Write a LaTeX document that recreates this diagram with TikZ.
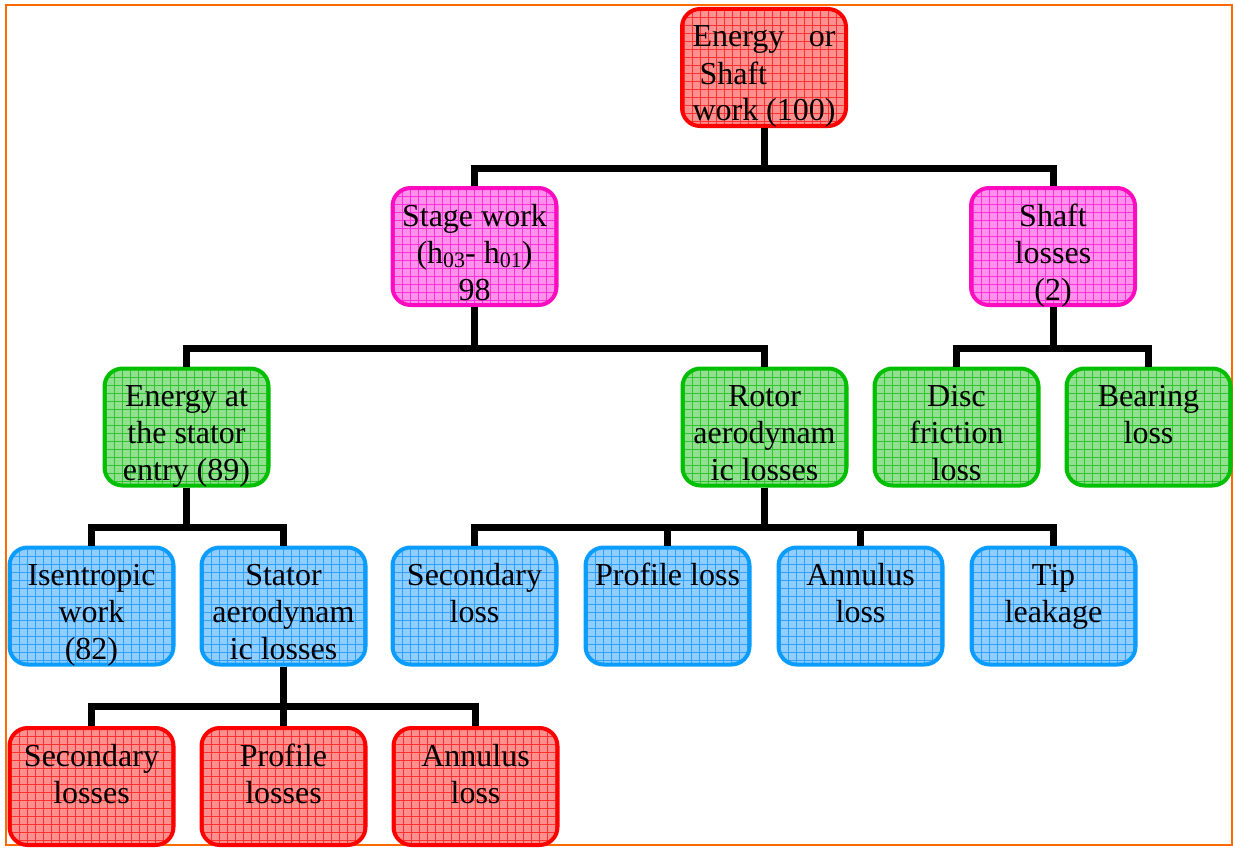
\documentclass[tikz,border=0pt]{standalone}
\usepackage{fontspec}
\setmainfont{Liberation Serif}
\definecolor{bRed}{HTML}{FF0000}
\definecolor{fRed}{HTML}{FF9090}
\definecolor{gRed}{HTML}{FF3030}
\definecolor{bMag}{HTML}{FF0CC0}
\definecolor{fMag}{HTML}{FF90EC}
\definecolor{gMag}{HTML}{FF30D8}
\definecolor{bGrn}{HTML}{00BE00}
\definecolor{fGrn}{HTML}{90E090}
\definecolor{gGrn}{HTML}{30C430}
\definecolor{bBlu}{HTML}{0A9CFF}
\definecolor{fBlu}{HTML}{90CEFF}
\definecolor{gBlu}{HTML}{30A0FF}
\definecolor{frameOrange}{HTML}{FF6A00}
\newcommand{\boxtext}[1]{\parbox[c][117pt][t]{160pt}{\centering\rule{0pt}{38pt}#1}}
\newcommand{\subnum}[1]{\raisebox{-0.3ex}{\fontsize{22}{22}\selectfont #1}}
\tikzset{
  base/.style={rectangle, rounded corners=18pt, line width=4pt,
    minimum width=164pt, minimum height=117pt, inner sep=0pt, outer sep=2pt,
    font=\fontsize{32}{37}\selectfont},
  gridfill/.style={path picture={\draw[#1, line width=0.6pt, step=8pt]
    (path picture bounding box.south west) grid (path picture bounding box.north east);}},
  redbox/.style={base, draw=bRed, fill=fRed, gridfill=gRed},
  magbox/.style={base, draw=bMag, fill=fMag, gridfill=gMag},
  grnbox/.style={base, draw=bGrn, fill=fGrn, gridfill=gGrn},
  blubox/.style={base, draw=bBlu, fill=fBlu, gridfill=gBlu},
  conn/.style={line width=7pt, black, line join=miter},
}
\begin{document}
\begin{tikzpicture}[x=1pt,y=-1pt]
\useasboundingbox (0,0) rectangle (1233,848);
\draw[frameOrange, line width=1.8pt] (6,5) rectangle (1232,845);

\node[redbox] (n1) at (764,67.5) {\parbox[c][117pt][t]{143pt}{\raggedright\rule{0pt}{38pt}\makebox[143pt][s]{Energy\hfill or}\\\hspace*{7pt}Shaft\\work (100)}};

\node[magbox] (n2) at (474.5,246.5) {\boxtext{Stage work\\(h\subnum{03}- h\subnum{01})\\98}};
\node[magbox] (n3) at (1053,246.5) {\boxtext{Shaft\\losses\\(2)}};

\node[grnbox] (n4) at (186.5,427) {\boxtext{Energy at\\the stator\\entry (89)}};
\node[grnbox] (n5) at (764.5,427) {\boxtext{Rotor\\aerodynam\\ic losses}};
\node[grnbox] (n6) at (956.5,427) {\boxtext{Disc\\friction\\loss}};
\node[grnbox] (n7) at (1148.5,427) {\boxtext{Bearing\\loss}};

\node[blubox] (n8) at (91.5,606) {\boxtext{Isentropic\\work\\(82)}};
\node[blubox] (n9) at (283.5,606) {\boxtext{Stator\\aerodynam\\ic losses}};
\node[blubox] (n10) at (474.5,606) {\boxtext{Secondary\\loss}};
\node[blubox] (n11) at (667.5,606) {\boxtext{Profile loss}};
\node[blubox] (n12) at (860.5,606) {\boxtext{Annulus\\loss}};
\node[blubox] (n13) at (1053.5,606) {\boxtext{Tip\\leakage}};

\node[redbox] (n14) at (91.5,786.5) {\boxtext{Secondary\\losses}};
\node[redbox] (n15) at (283.5,786.5) {\boxtext{Profile\\losses}};
\node[redbox] (n16) at (475.5,786.5) {\boxtext{Annulus\\loss}};

\coordinate (b1) at (0,168);
\coordinate (b2) at (0,348);
\coordinate (b3) at (0,527);
\coordinate (b4) at (0,706);

\foreach \c in {n2,n3} \draw[conn] (n1.south) -- (n1.south |- b1) -| (\c.north);
\foreach \c in {n4,n5} \draw[conn] (n2.south) -- (n2.south |- b2) -| (\c.north);
\foreach \c in {n6,n7} \draw[conn] (n3.south) -- (n3.south |- b2) -| (\c.north);
\foreach \c in {n8,n9} \draw[conn] (n4.south) -- (n4.south |- b3) -| (\c.north);
\foreach \c in {n10,n11,n12,n13} \draw[conn] (n5.south) -- (n5.south |- b3) -| (\c.north);
\foreach \c in {n14,n15,n16} \draw[conn] (n9.south) -- (n9.south |- b4) -| (\c.north);
\end{tikzpicture}
\end{document}
